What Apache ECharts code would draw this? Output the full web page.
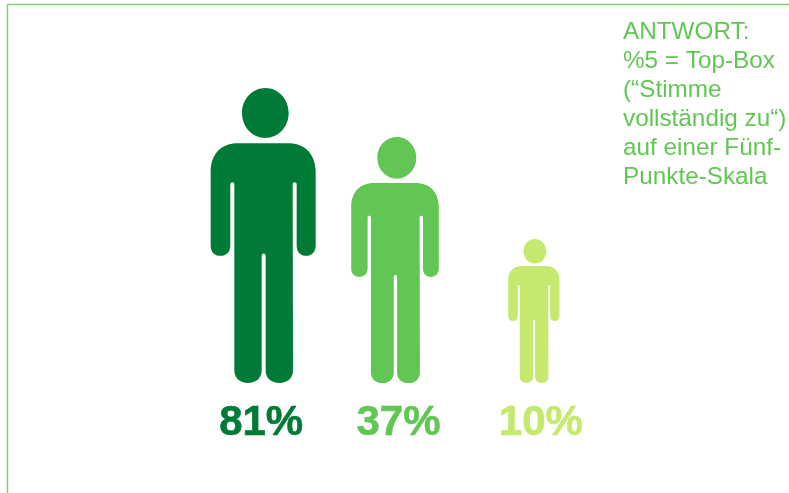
<!DOCTYPE html>
<html><head><meta charset="utf-8">
<style>html,body{margin:0;padding:0;background:#fff}#c{width:789px;height:493px}</style>
<script src="https://cdn.jsdelivr.net/npm/echarts@6/dist/echarts.min.js"></script>
</head><body><div id="c"></div>
<script>
const categories = ['A','B','C'];
const percentValues = [81,37,10];
const figureHeights = [295,246,144];
const colors = ['#007A37','#62C654','#C5E96E'];
const noteLines = ['ANTWORT:','%5 = Top-Box','(“Stimme','vollständig zu“)','auf einer Fünf-','Punkte-Skala'];
const figureOffsets = [0,-3.5,0];
const labelOffsets = [-2,0,7];
const PERSON = 'path://M33 495 L33 275 C33 220 65 188 115 188 L265 188 C315 188 348 220 348 275 L348 495 C348 515 335 526 320 526 C303 526 291 515 291 495 L291 312 C291 303 279 303 279 312 L280 870 C280 895 262 908 240 908 C215 908 198 895 198 870 L198 527 C198 516 186 516 186 527 L186 870 C186 895 168 908 145 908 C122 908 104 895 104 870 L104 312 C104 303 92 303 92 312 L92 495 C92 515 80 526 62 526 C45 526 33 515 33 495 Z M127 97 C127 55 158 22 197 22 C236 22 267 55 267 97 C267 139 236 172 197 172 C158 172 127 139 127 97 Z';
const chart = echarts.init(document.getElementById('c'), null, {renderer:'canvas'});
chart.setOption({
  animation:false,
  grid:{left:195.5,top:0,width:406,height:383},
  xAxis:{type:'category',data:categories,show:false},
  yAxis:{type:'value',min:0,max:383,show:false},
  title:{text:noteLines.join('\n'),left:618,top:13,textStyle:{fontFamily:'Liberation Sans',fontWeight:'normal',fontSize:24.3,lineHeight:29,color:'#62C654'}},
  graphic:[
    {type:'line',silent:true,shape:{x1:7.5,y1:4.5,x2:789,y2:4.5},style:{stroke:'#7BD36F',lineWidth:1.4}},
    {type:'line',silent:true,shape:{x1:7.5,y1:4.5,x2:7.5,y2:493},style:{stroke:'#7BD36F',lineWidth:1.4}}
  ],
  series:[{
    type:'pictorialBar',
    symbol:PERSON,
    barWidth:'100%',
    symbolPosition:'start',
    symbolSize:function(v){return [v*0.356,v];},
    data:figureHeights.map((h,i)=>({
      value:h,
      symbolOffset:[figureOffsets[i],0],
      itemStyle:{color:colors[i]},
      label:{show:true,position:'bottom',distance:19,offset:[labelOffsets[i],0],
        formatter:percentValues[i]+'%',color:colors[i],
        textBorderColor:colors[i],textBorderWidth:0.6,
        fontFamily:'Liberation Sans',fontWeight:'bold',fontSize:42}
    }))
  }]
});
</script></body></html>
